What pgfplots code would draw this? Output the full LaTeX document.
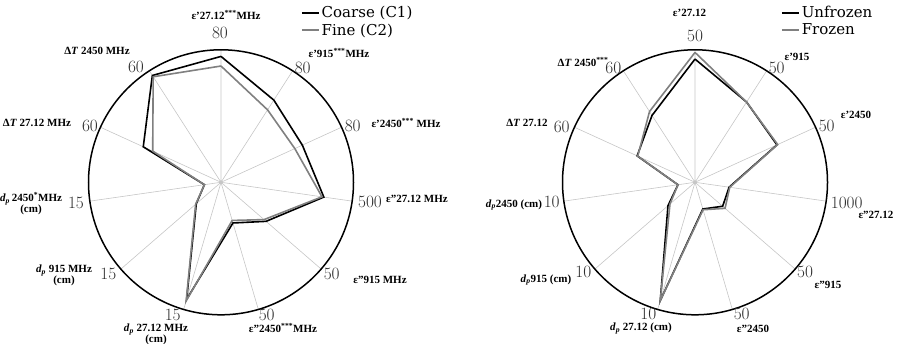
\documentclass[border=0pt]{standalone}
\usepackage{fontspec}
\setmainfont{Liberation Serif}
\newfontfamily\legfont{DejaVu Serif}
\usepackage{pgfplots}
\usepackage{pgfplotstable}
\usepgfplotslibrary{polar}
\pgfplotsset{compat=1.18}

% angle (deg), scale maximum of the spoke, series values
\pgfplotstableread{
ang       max  coarse fine
90        80   76     70.2
57.2727   80   59     52
24.5455   80   54     49
-8.1818   500  392    385
-40.9091  50   22.5   21.5
-73.6364  50   16     15
-106.3636 15   13.8   14.0
-139.0909 15   3.7    3.8
-171.8182 15   1.9    1.9
-204.5455 60   38.7   34
-237.2727 60   57.5   56.8
-270      80   76     70.2
}\leftdata

\pgfplotstableread{
ang       max   unfrozen frozen
90        50    46.5     49
57.2727   50    36       36
24.5455   50    34       34.3
-8.1818   1000  260      265
-40.9091  50    13.8     15
-73.6364  50    10.5     10.8
-106.3636 10    9.3      9.3
-139.0909 10    2.7      2.5
-171.8182 10    1.3      1.3
-204.5455 60    28.8     28.5
-237.2727 60    36       38.1
-270      50    46.5     49
}\rightdata

\newcommand\cat{\bfseries\fontsize{11}{12}\selectfont}
\newcommand\num{\fontsize{17}{17}\selectfont\color{black!82}}
\newcommand\dd{\textit{d}\textsubscript{\textit{p}}}

\pgfplotsset{
  radar/.style={
    scale only axis, width=265pt, height=265pt,
    ymin=0, ymax=1, ytick=\empty,
    xtick={24.5455,57.2727,90,122.7273,155.4545,188.1818,220.9091,253.6364,286.3636,319.0909,351.8182},
    xticklabel=\empty,
    xmajorgrids,
    major grid style={gray!45, line width=0.6pt},
    major tick length=0pt,
    separate axis lines,
    x axis line style={black, line width=1.5pt},
    y axis line style={draw=none},
    clip=false,
    legend style={draw=none, fill=none, font=\legfont\fontsize{15}{17}\selectfont,
      anchor=north west, row sep=0.5pt},
    legend cell align=left,
  }
}

\begin{document}
\begin{tikzpicture}
\useasboundingbox (0pt,0pt) rectangle (901pt,344pt);

\begin{scope}[shift={(221pt,161.7pt)}]
\begin{polaraxis}[radar,
  at={(0pt,0pt)}, anchor=origin,
  legend style={at={(0.79,1.18)}},
]
\addplot[black, line width=1.6pt] table[x=ang, y expr=\thisrow{coarse}/\thisrow{max}] {\leftdata};
\addlegendentry{Coarse (C1)}
\addplot[gray, line width=1.6pt] table[x=ang, y expr=\thisrow{fine}/\thisrow{max}] {\leftdata};
\addlegendentry{Fine (C2)}
\end{polaraxis}
\end{scope}

\begin{scope}[shift={(695pt,161.7pt)}]
\begin{polaraxis}[radar,
  at={(0pt,0pt)}, anchor=origin,
  legend style={at={(0.813,1.18)}},
]
\addplot[black, line width=1.6pt] table[x=ang, y expr=\thisrow{unfrozen}/\thisrow{max}] {\rightdata};
\addlegendentry{Unfrozen}
\addplot[gray, line width=1.6pt] table[x=ang, y expr=\thisrow{frozen}/\thisrow{max}] {\rightdata};
\addlegendentry{Frozen}
\end{polaraxis}
\end{scope}

\begin{scope}[x=1pt,y=1pt]
% scale maxima at the spoke ends, left chart
\node[font=\num] at (220,311) {$80$};
\node[font=\num] at (302.7,276) {$80$};
\node[font=\num] at (352.7,218) {$80$};
\node[font=\num] at (370,142) {$500$};
\node[font=\num] at (331.7,70.3) {$50$};
\node[font=\num] at (266.7,29.5) {$50$};
\node[font=\num] at (172.7,29.5) {$15$};
\node[font=\num] at (108.3,70.3) {$15$};
\node[font=\num] at (76,141.3) {$15$};
\node[font=\num] at (90,218) {$60$};
\node[font=\num] at (136,277.3) {$60$};
% scale maxima at the spoke ends, right chart
\node[font=\num] at (695,308) {$50$};
\node[font=\num] at (776.7,275.7) {$50$};
\node[font=\num] at (826.7,218) {$50$};
\node[font=\num] at (846.7,141.3) {$1000$};
\node[font=\num] at (805,72) {$50$};
\node[font=\num] at (741.7,30.5) {$50$};
\node[font=\num] at (648.3,30.5) {$10$};
\node[font=\num] at (583.3,72) {$10$};
\node[font=\num] at (551.7,142) {$10$};
\node[font=\num] at (561.7,217.3) {$60$};
\node[font=\num] at (613.3,275.7) {$60$};

% category names, left chart
\node[font=\cat] at (226,329) {ε'27.12\textsuperscript{***}MHz};
\node[font=\cat] at (339,291) {ε'915\textsuperscript{***}MHz};
\node[font=\cat] at (406,221) {ε'2450\textsuperscript{***} MHz};
\node[font=\cat] at (417,145) {ε''27.12 MHz};
\node[font=\cat] at (380,64) {ε''915 MHz};
\node[font=\cat] at (283,15.5) {ε''2450\textsuperscript{***}MHz};
\node[font=\cat, align=center, inner sep=0pt] at (156,9.5) {\dd\ 27.12 MHz\\[-1pt](cm)};
\node[font=\cat, align=center, inner sep=0pt] at (64,68.5) {\dd\ 915 MHz\\[-1pt](cm)};
\node[font=\cat, align=center, inner sep=0pt] at (31,140) {\dd\,2450\textsuperscript{*}MHz\\[-1pt](cm)};
\node[font=\cat] at (37,221) {Δ\textit{T} 27.12 MHz};
\node[font=\cat] at (97,293) {Δ\textit{T} 2450 MHz};

% category names, right chart
\node[font=\cat] at (689.5,331) {ε'27.12};
\node[font=\cat] at (797,287) {ε'915};
\node[font=\cat] at (856,229) {ε'2450};
\node[font=\cat] at (876,129) {ε''27.12};
\node[font=\cat] at (828,59) {ε''915};
\node[font=\cat] at (753,15.5) {ε''2450};
\node[font=\cat] at (641,15.5) {\dd\ 27.12 (cm)};
\node[font=\cat] at (546,64) {\dd 915 (cm)};
\node[font=\cat] at (514,139) {\dd 2450 (cm)};
\node[font=\cat] at (527,221) {Δ\textit{T} 27.12};
\node[font=\cat] at (583,282) {Δ\textit{T} 2450\textsuperscript{***}};
\end{scope}
\end{tikzpicture}
\end{document}
